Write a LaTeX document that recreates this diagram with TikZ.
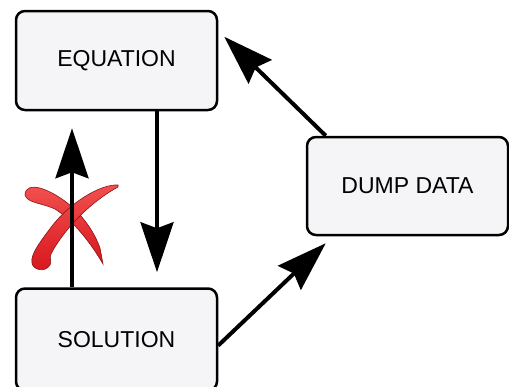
\documentclass[tikz,border=0pt]{standalone}
\usepackage{fontspec}
\setmainfont{Liberation Sans}
\usetikzlibrary{arrows.meta}
\definecolor{boxfill}{RGB}{245,245,247}
\definecolor{xlight}{RGB}{242,80,80}
\definecolor{xred}{RGB}{215,22,28}
\definecolor{xdark}{RGB}{140,20,20}
\begin{document}
\begin{tikzpicture}[x=1pt,y=-1pt,
  box/.style={draw=black, line width=2.5pt, rounded corners=9pt, fill=boxfill,
    minimum width=201pt, minimum height=99pt, inner sep=0pt,
    font=\fontsize{23}{26}\selectfont},
  arr/.style={line width=4pt, -{Stealth[length=50pt,width=33pt,inset=6pt]}},
  xstroke/.style={draw=xdark, line width=0.6pt, top color=xlight, bottom color=xred}]
\useasboundingbox (0,0) rectangle (509,386);
\fill[white] (0,0) rectangle (509,386);

\node[box] (eq) at (116.5,60.5) {EQUATION};
\node[box, minimum height=102pt] (sol) at (116.5,339.5) {SOLUTION};
\node[box, minimum height=98pt] (dump) at (407.5,186) {DUMP DATA};

% red cross
\path[xstroke] (25,195) .. controls (25,187) and (33,186) .. (40,188)
  .. controls (60,194) and (88,215) .. (100,248) -- (103,264)
  .. controls (92,245) and (75,222) .. (55,209)
  .. controls (42,203) and (27,203) .. (25,195) -- cycle;
\path[xstroke] (118,185) .. controls (100,184) and (70,203) .. (52,226)
  .. controls (40,242) and (30,255) .. (32,263)
  .. controls (33,270) and (45,273) .. (50,265)
  .. controls (52,261) and (49,258) .. (51,254)
  .. controls (60,236) and (85,205) .. (118,187) -- cycle;

% connectors
\draw[arr, shorten >=15pt] ([xshift=40.5pt]eq.south) -- ([xshift=40.5pt]sol.north);
\draw[arr, shorten >=17pt] ([xshift=-44.5pt]sol.north) -- ([xshift=-44.5pt]eq.south);
\draw[arr] ([xshift=20pt]dump.north west) -- ([shift={(6,27)}]eq.north east);
\draw[arr] ([shift={(0,6)}]sol.east) -- ([shift={(20,7)}]dump.south west);
\end{tikzpicture}
\end{document}
